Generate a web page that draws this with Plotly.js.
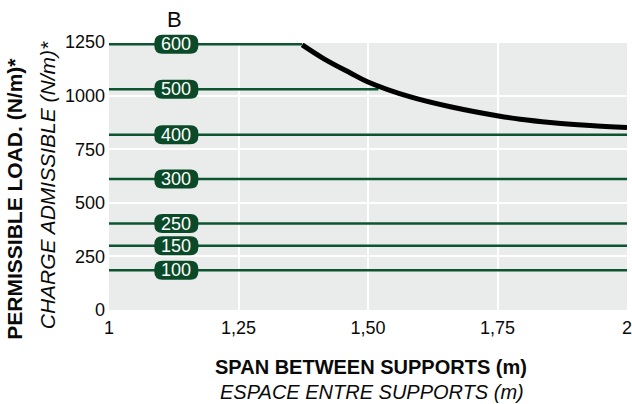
<!DOCTYPE html>
<html>
<head>
<meta charset="utf-8">
<script src="https://cdn.plot.ly/plotly-3.0.1.min.js"></script>
<style>html,body{margin:0;padding:0;background:#fff;}#chart{width:632px;height:404px;}</style>
</head>
<body>
<div id="chart"></div>
<script>
// ---- data ----
const lineLabels = ['600', '500', '400', '300', '250', '150', '100'];
const lineLoads  = [1240, 1030, 818, 611, 403, 300, 185];
const lineStart  = [1, 1, 1, 1, 1, 1, 1];
const lineEnds   = [1.373, 1.52, 2, 2, 2, 2, 2];
const labelSpan  = 1.13;

const curveSpan = [1.373, 1.415, 1.466, 1.5, 1.582, 1.659, 1.752, 1.794, 1.852, 1.929, 2.0];
const curveLoad = [1237, 1172, 1106, 1064, 994, 948, 905, 890, 875, 861, 851];

const xTickVals = [1, 1.25, 1.5, 1.75, 2];
const xTickText = ['1', '1,25', '1,50', '1,75', '2'];
const yTickVals = [0, 250, 500, 750, 1000, 1250];
const yTickText = ['0', '250', '500', '750', '1000', '1250'];
const xRange = [1, 2];
const yRange = [0, 1255];

const titleText = 'B';
const xTitleEn = 'SPAN BETWEEN SUPPORTS (m)';
const xTitleFr = 'ESPACE ENTRE SUPPORTS (m)';
const yTitleEn = 'PERMISSIBLE LOAD. (N/m)*';
const yTitleFr = 'CHARGE ADMISSIBLE (N/m)*';

// ---- styles ----
const FONT = 'Liberation Sans, Arial, Helvetica, sans-serif';
const GREEN_LINE = '#0d5530';
const GREEN_PILL = '#0b4a28';
const INK = '#0a0a0a';

const traces = [];
lineLoads.forEach((v, i) => {
  traces.push({
    type: 'scatter', mode: 'lines',
    x: [lineStart[i], lineEnds[i]], y: [v, v],
    line: {color: GREEN_LINE, width: 2.5},
    hoverinfo: 'skip', showlegend: false, cliponaxis: false
  });
});
traces.push({
  type: 'scatter', mode: 'lines',
  x: curveSpan, y: curveLoad,
  line: {color: '#000000', width: 5, shape: 'spline', smoothing: 1},
  hoverinfo: 'skip', showlegend: false, cliponaxis: false
});

const W = 22, H = 9.5, R = 8;
const pillPath = `M ${-W+R},${-H} L ${W-R},${-H} Q ${W},${-H} ${W},${-H+R} L ${W},${H-R} Q ${W},${H} ${W-R},${H} L ${-W+R},${H} Q ${-W},${H} ${-W},${H-R} L ${-W},${-H+R} Q ${-W},${-H} ${-W+R},${-H} Z`;

// pills use paper refs so they are not clipped at the top of the plot area
const xFrac = (labelSpan - xRange[0]) / (xRange[1] - xRange[0]);
const shapes = lineLoads.map(v => ({
  type: 'path', xref: 'paper', yref: 'paper',
  xsizemode: 'pixel', ysizemode: 'pixel',
  xanchor: xFrac, yanchor: (v - yRange[0]) / (yRange[1] - yRange[0]),
  path: pillPath,
  fillcolor: GREEN_PILL, line: {width: 0}, layer: 'above'
}));

const annotations = lineLoads.map((v, i) => ({
  x: labelSpan, y: v, xref: 'x', yref: 'y',
  text: lineLabels[i], showarrow: false,
  font: {family: FONT, size: 18, color: '#ffffff'},
  xanchor: 'center', yanchor: 'middle'
}));

annotations.push(
  {xref: 'paper', yref: 'paper', x: 0.1274, y: 1.0798, text: titleText, showarrow: false,
   font: {family: FONT, size: 22, color: INK}, xanchor: 'center', yanchor: 'middle'},
  {xref: 'paper', yref: 'paper', x: 0.5058, y: -0.212, text: '<b>' + xTitleEn + '</b>', showarrow: false,
   font: {family: FONT, size: 20, color: INK}, xanchor: 'center', yanchor: 'middle'},
  {xref: 'paper', yref: 'paper', x: 0.508, y: -0.303, text: '<i>' + xTitleFr + '</i>', showarrow: false,
   font: {family: FONT, size: 20, color: INK}, xanchor: 'center', yanchor: 'middle'},
  {xref: 'paper', yref: 'paper', x: -0.1815, y: 0.4137, text: '<b>' + yTitleEn + '</b>', showarrow: false, textangle: -90,
   font: {family: FONT, size: 21, color: INK}, xanchor: 'center', yanchor: 'middle'},
  {xref: 'paper', yref: 'paper', x: -0.1197, y: 0.4638, text: '<i>' + yTitleFr + '</i>', showarrow: false, textangle: -90,
   font: {family: FONT, size: 21, color: INK}, xanchor: 'center', yanchor: 'middle'}
);

const layout = {
  width: 632, height: 404,
  margin: {l: 109, r: 5, t: 41, b: 93.5, pad: 0},
  paper_bgcolor: '#ffffff',
  plot_bgcolor: '#e9ecea',
  showlegend: false,
  font: {family: FONT, color: INK},
  xaxis: {
    range: xRange, tickvals: xTickVals, ticktext: xTickText,
    showgrid: true, gridcolor: '#ffffff', gridwidth: 2, zeroline: false,
    showline: false, ticks: '', ticklabelstandoff: 5, ticklabeloverflow: 'allow',
    tickfont: {family: FONT, size: 18, color: INK}, fixedrange: true
  },
  yaxis: {
    range: yRange, tickvals: yTickVals, ticktext: yTickText,
    showgrid: true, gridcolor: '#ffffff', gridwidth: 2, zeroline: false,
    showline: false, ticks: '', ticklabelstandoff: 3, ticklabeloverflow: 'allow',
    tickfont: {family: FONT, size: 18, color: INK}, fixedrange: true
  },
  shapes: shapes,
  annotations: annotations
};

Plotly.newPlot('chart', traces, layout, {displayModeBar: false, staticPlot: true});
</script>
</body>
</html>
